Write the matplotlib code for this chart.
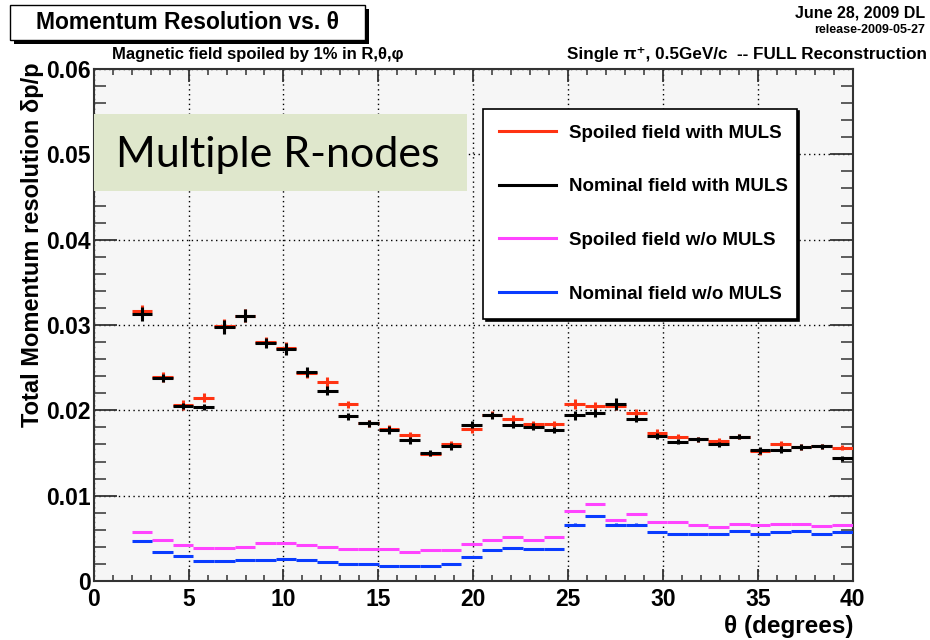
"""Momentum resolution vs theta, spoiled vs nominal field, with and without MULS"""
import numpy as np
import matplotlib
matplotlib.use("Agg")
import matplotlib.pyplot as plt
from matplotlib.lines import Line2D
from matplotlib.patches import Rectangle
from matplotlib.ticker import MultipleLocator

# 35 theta bins from 2 to 40 degrees
theta_lo = 2.0
theta_hi = 40.0
n_bins = 35

# with multiple scattering
spoiled_muls = [0.0316, 0.0239, 0.0206, 0.0215, 0.0299, 0.0311, 0.0280, 0.0273, 0.0244,
                0.0233, 0.0207, 0.0185, 0.0178, 0.0171, 0.0149, 0.0160, 0.0178, 0.0195,
                0.0190, 0.0184, 0.0184, 0.0207, 0.0205, 0.0205, 0.0197, 0.0174, 0.0169,
                0.0166, 0.0164, 0.0169, 0.0152, 0.0160, 0.0157, 0.0158, 0.0156]
nominal_muls = [0.0313, 0.0238, 0.0205, 0.0204, 0.0298, 0.0311, 0.0279, 0.0272, 0.0245,
                0.0223, 0.0193, 0.0185, 0.0177, 0.0165, 0.0150, 0.0158, 0.0183, 0.0194,
                0.0183, 0.0181, 0.0177, 0.0194, 0.0197, 0.0207, 0.0190, 0.0170, 0.0163,
                0.0166, 0.0160, 0.0169, 0.0153, 0.0154, 0.0157, 0.0158, 0.0144]
err_spoiled_muls = [0.0008, 0.0006, 0.0006, 0.0005, 0.0008, 0.0008, 0.0006, 0.0007, 0.0006,
                    0.0006, 0.0004, 0.0004, 0.0005, 0.0004, 0.0003, 0.0004, 0.0004, 0.0004,
                    0.0004, 0.0004, 0.0004, 0.0006, 0.0005, 0.0005, 0.0004, 0.0004, 0.0003,
                    0.0003, 0.0003, 0.0003, 0.0004, 0.0004, 0.0003, 0.0003, 0.0003]
err_nominal_muls = [0.0008, 0.0005, 0.0004, 0.0004, 0.0008, 0.0008, 0.0006, 0.0007, 0.0006,
                    0.0005, 0.0004, 0.0004, 0.0005, 0.0004, 0.0003, 0.0004, 0.0004, 0.0004,
                    0.0004, 0.0004, 0.0004, 0.0005, 0.0005, 0.0007, 0.0004, 0.0004, 0.0003,
                    0.0003, 0.0003, 0.0003, 0.0004, 0.0004, 0.0003, 0.0003, 0.0003]

# without multiple scattering
spoiled_nomuls = [0.0058, 0.00485, 0.0042, 0.0039, 0.0039, 0.0040, 0.0044, 0.0044, 0.0042,
                  0.0040, 0.0037, 0.0037, 0.0037, 0.0034, 0.0036, 0.0036, 0.0043, 0.0048,
                  0.0051, 0.00485, 0.0051, 0.0082, 0.0090, 0.0071, 0.0079, 0.0069, 0.0069,
                  0.0066, 0.0063, 0.0067, 0.0066, 0.0067, 0.0067, 0.0064, 0.0066]
nominal_nomuls = [0.0047, 0.0034, 0.0029, 0.0023, 0.0023, 0.0025, 0.0025, 0.0026, 0.00245,
                  0.00225, 0.0020, 0.0020, 0.0018, 0.0018, 0.0018, 0.0020, 0.0028, 0.0036,
                  0.0039, 0.0037, 0.0037, 0.0066, 0.0076, 0.0066, 0.0066, 0.0057, 0.0055,
                  0.0055, 0.0055, 0.0059, 0.0055, 0.0057, 0.0059, 0.0055, 0.0058]
err_spoiled_nomuls = [0.0001] * 21 + [0.00015, 0.00015, 0.0001, 0.0001, 0.0001, 0.00015,
                                      0.0001, 0.0001, 0.0001, 0.0001, 0.0001, 0.0001,
                                      0.0001, 0.0001]
err_nominal_nomuls = [0.0001] * 21 + [0.00015, 0.00015, 0.00015, 0.00015, 0.0001, 0.00015,
                                      0.0001, 0.0001, 0.0001, 0.0001, 0.0001, 0.0001,
                                      0.0001, 0.0001]

labels = ["Spoiled field with MULS", "Nominal field with MULS",
          "Spoiled field w/o MULS", "Nominal field w/o MULS"]
colors = ["#ff3312", "#000000", "#ff44ff", "#0a3cff"]

FONT = ["Liberation Sans", "DejaVu Sans"]
plt.rcParams["font.family"] = FONT
plt.rcParams["font.weight"] = "bold"

edges = np.linspace(theta_lo, theta_hi, n_bins + 1)
centers = 0.5 * (edges[:-1] + edges[1:])
half = 0.5 * (edges[1] - edges[0])

fig = plt.figure(figsize=(9.3, 6.4), dpi=100)
ax = fig.add_axes([93.7 / 930, 59 / 640, 759 / 930, 512 / 640])
ax.set_facecolor("#f6f6f6")

series = [(spoiled_nomuls, err_spoiled_nomuls), (nominal_nomuls, err_nominal_nomuls),
          (spoiled_muls, err_spoiled_muls), (nominal_muls, err_nominal_muls)]
series_colors = [colors[2], colors[3], colors[0], colors[1]]
for (vals, errs), c in zip(series, series_colors):
    ax.errorbar(centers, vals, xerr=half, yerr=errs, fmt="none", ecolor=c,
                elinewidth=2.2, capsize=0, zorder=3)

ax.set_xlim(0, 40)
ax.set_ylim(0, 0.06)
ax.xaxis.set_major_locator(MultipleLocator(5))
ax.xaxis.set_minor_locator(MultipleLocator(1))
ax.yaxis.set_major_locator(MultipleLocator(0.01))
ax.yaxis.set_minor_locator(MultipleLocator(0.002))
ax.yaxis.set_major_formatter(plt.FuncFormatter(lambda v, p: "0" if abs(v) < 1e-9 else f"{v:.2f}"))
ax.grid(True, which="major", color="black", linestyle=(0, (1, 2.5)), linewidth=1.0, zorder=1)
ax.set_axisbelow(True)

ax.tick_params(axis="both", which="both", direction="in", top=True, right=True,
               color="#333333", labelsize=16.5)
ax.tick_params(axis="y", which="major", length=16.5, width=1.3, pad=2)
ax.tick_params(axis="y", which="minor", length=8.5, width=1.1)
ax.tick_params(axis="x", which="major", length=9, width=1.3, pad=5)
ax.tick_params(axis="x", which="minor", length=4.5, width=1.1)
for lab in ax.get_xticklabels() + ax.get_yticklabels():
    lab.set_fontweight("bold")
for sp in ax.spines.values():
    sp.set_linewidth(1.5)
    sp.set_color("#333333")

# legend
handles = [Line2D([], [], color=c, lw=2.2) for c in colors]
leg = ax.legend(handles, labels, loc="upper left", bbox_to_anchor=(0.501, 0.5, 0.4375, 0.441),
                mode="expand", fontsize=13.5, labelspacing=1.95, handlelength=3.0,
                handletextpad=0.7, borderpad=0.85, fancybox=False, framealpha=1,
                edgecolor="black", facecolor="white",
                shadow={"color": "black", "alpha": 1.0})
leg.get_frame().set_linewidth(1.2)
leg.set_zorder(6)
for t in leg.get_texts():
    t.set_fontweight("bold")

# green annotation box
ax.add_patch(Rectangle((0.0004, 0.762), 0.491, 0.150, transform=ax.transAxes,
                       facecolor="#dfe7cc", edgecolor="none", zorder=5))
ax.text(0.243, 0.832, "Multiple R-nodes", transform=ax.transAxes, ha="center", va="center",
        fontsize=31, fontweight="normal", family=["Lato", "DejaVu Sans"], zorder=6)

# axis titles
fig.text(853 / 930, 1 - 627 / 640, "\u03b8 (degrees)", ha="right", va="center",
         fontsize=17.5, fontweight="bold")
fig.text(32 / 930, 1 - 62 / 640, "Total Momentum resolution \u03b4p/p", rotation=90,
         ha="center", va="top", fontsize=17, fontweight="bold")

# title box with shadow
fig.patches.append(Rectangle((14 / 930, 1 - 44 / 640), 355 / 930, 35 / 640,
                             transform=fig.transFigure, facecolor="black", edgecolor="none"))
fig.patches.append(Rectangle((10 / 930, 1 - 40 / 640), 355 / 930, 35 / 640,
                             transform=fig.transFigure, facecolor="white",
                             edgecolor="black", linewidth=1.0))
fig.text(187 / 930, 1 - 22.5 / 640, "Momentum Resolution vs. \u03b8", ha="center", va="center",
         fontsize=16.5, fontweight="bold")

fig.text(925 / 930, 1 - 13 / 640, "June 28, 2009 DL", ha="right", va="center",
         fontsize=11.5, fontweight="bold")
fig.text(925 / 930, 1 - 30 / 640, "release-2009-05-27", ha="right", va="center",
         fontsize=9, fontweight="bold")
fig.text(112 / 930, 1 - 55 / 640, "Magnetic field spoiled by 1% in R,\u03b8,\u03c6", ha="left",
         va="center", fontsize=12, fontweight="bold")
fig.text(927 / 930, 1 - 55 / 640, "Single \u03c0\u207a, 0.5GeV/c  -- FULL Reconstruction",
         ha="right", va="center", fontsize=12.3, fontweight="bold")

fig.savefig("out.png", dpi=100)
